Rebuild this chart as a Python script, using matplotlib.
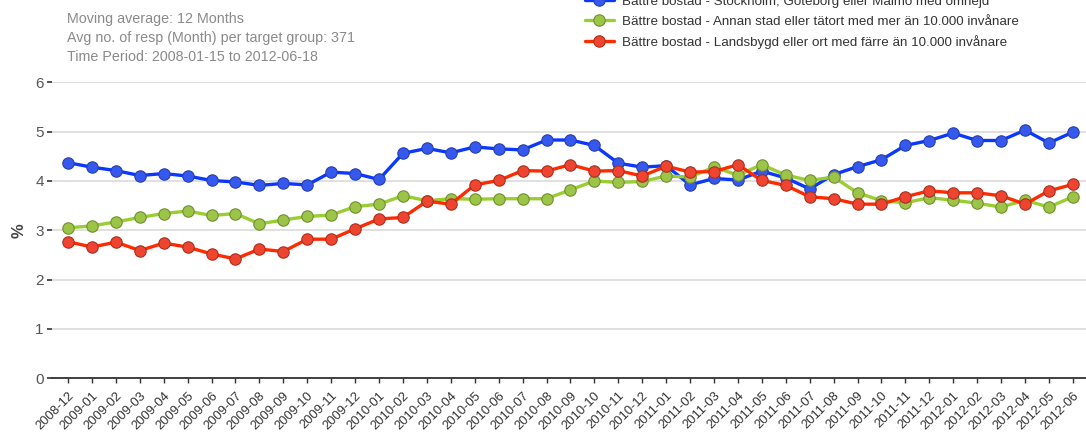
import numpy as np
import matplotlib.pyplot as plt

plt.rcParams['font.family'] = ['Liberation Sans', 'DejaVu Sans']

months = ["2008-12",
          "2009-01", "2009-02", "2009-03", "2009-04", "2009-05", "2009-06",
          "2009-07", "2009-08", "2009-09", "2009-10", "2009-11", "2009-12",
          "2010-01", "2010-02", "2010-03", "2010-04", "2010-05", "2010-06",
          "2010-07", "2010-08", "2010-09", "2010-10", "2010-11", "2010-12",
          "2011-01", "2011-02", "2011-03", "2011-04", "2011-05", "2011-06",
          "2011-07", "2011-08", "2011-09", "2011-10", "2011-11", "2011-12",
          "2012-01", "2012-02", "2012-03", "2012-04", "2012-05", "2012-06"]

storstad = [4.37, 4.28, 4.21, 4.11, 4.15, 4.10, 4.01, 3.98, 3.91, 3.95, 3.92, 4.18, 4.15,
            4.03, 4.56, 4.66, 4.57, 4.69, 4.65, 4.63, 4.83, 4.83, 4.72, 4.36, 4.28,
            4.31, 3.92, 4.05, 4.02, 4.20, 4.06, 3.84, 4.13, 4.29, 4.43, 4.72, 4.82,
            4.97, 4.82, 4.82, 5.03, 4.77, 4.99]

annan_stad = [3.05, 3.09, 3.17, 3.26, 3.34, 3.39, 3.30, 3.34, 3.13, 3.21, 3.28, 3.31, 3.48,
              3.53, 3.70, 3.60, 3.64, 3.63, 3.64, 3.64, 3.64, 3.82, 4.00, 3.97, 3.99,
              4.10, 4.08, 4.28, 4.12, 4.33, 4.12, 4.01, 4.08, 3.76, 3.60, 3.56, 3.66,
              3.61, 3.55, 3.47, 3.61, 3.47, 3.68]

landsbygd = [2.77, 2.66, 2.76, 2.59, 2.74, 2.66, 2.52, 2.42, 2.62, 2.57, 2.82, 2.82, 3.03,
             3.23, 3.26, 3.59, 3.53, 3.92, 4.01, 4.21, 4.20, 4.33, 4.20, 4.21, 4.10,
             4.30, 4.18, 4.19, 4.33, 4.01, 3.91, 3.68, 3.64, 3.53, 3.53, 3.68, 3.80,
             3.76, 3.76, 3.70, 3.53, 3.80, 3.93]

labels = ["Bättre bostad - Stockholm, Göteborg eller Malmö med omnejd",
          "Bättre bostad - Annan stad eller tätort med mer än 10.000 invånare",
          "Bättre bostad - Landsbygd eller ort med färre än 10.000 invånare"]

info = ["Moving average: 12 Months",
        "Avg no. of resp (Month) per target group: 371",
        "Time Period: 2008-01-15 to 2012-06-18"]

line_colors = ["#0a38ff", "#9acd32", "#ff2a00"]
face_colors = ["#3558ee", "#9cc548", "#ee4430"]
edge_colors = ["#2a40a8", "#6f8f30", "#a83020"]

fig = plt.figure(figsize=(10.86, 4.37), dpi=100)
ax = fig.add_axes([52 / 1086, 0.1343, 1 - 52 / 1086, 0.6774])

x = np.arange(len(months))
for vals, lab, lc, fc, ec in zip([storstad, annan_stad, landsbygd], labels,
                                 line_colors, face_colors, edge_colors):
    ax.plot(x, vals, color=lc, lw=2.4, marker='o', ms=8.2, mfc=fc, mec=ec,
            mew=0.8, label=lab, solid_capstyle='round', zorder=3)

ax.set_xlim(-0.67, 42.55)
ax.set_ylim(0, 6)
ax.set_yticks(range(7))
ax.grid(axis='y', color='#dddddd', lw=1.3)
ax.set_axisbelow(True)
for s in ['top', 'right', 'left']:
    ax.spines[s].set_visible(False)
ax.spines['bottom'].set_color('#333333')
ax.spines['bottom'].set_linewidth(1.3)
ax.tick_params(axis='y', colors='#333333', labelcolor='#555555', labelsize=11,
               length=3.5, width=1.2, pad=2.5)
ax.tick_params(axis='x', colors='#333333', labelcolor='#333333', labelsize=9.4,
               length=3.5, width=1.0, pad=4.5)
ax.set_xticks(x)
ax.set_xticklabels(months, rotation=45, ha='right', rotation_mode='anchor')
ax.set_ylabel('%', color='#444444', fontsize=12, fontweight='bold')
ax.yaxis.set_label_coords(-25 / 1034, 0.5)

for i, t in enumerate(info):
    fig.text(67 / 1086, 1 - (19 + 19 * i) / 437, t, color='#8a8a8a',
             fontsize=10.3, va='center')

fig.legend(loc='upper left', bbox_to_anchor=(578 / 1086, 1 + 11 / 437),
           frameon=False, fontsize=9.6, labelcolor='#333333', handlelength=2.2,
           handletextpad=0.6, labelspacing=0.55, borderpad=0)

fig.savefig('out.png', dpi=100)
